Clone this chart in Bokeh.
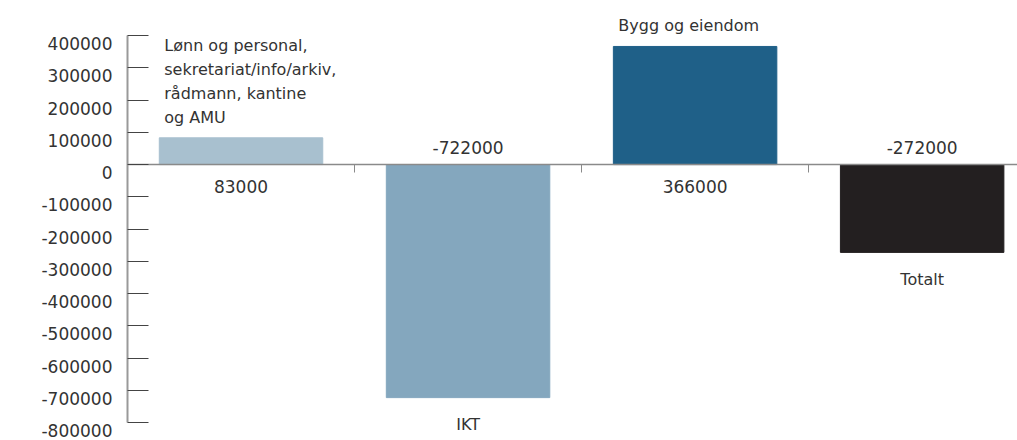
import numpy as np
import pandas as pd
from bokeh.plotting import figure
from bokeh.models import (ColumnDataSource, Range1d, FixedTicker, NumeralTickFormatter,
                          LinearAxis)
from bokeh.core.properties import value
from bokeh.embed import file_html
from bokeh.resources import INLINE

# ---- data ----
categories = ["Lønn og personal,\nsekretariat/info/arkiv,\nrådmann, kantine\nog AMU",
              "IKT", "Bygg og eiendom", "Totalt"]
values = [83000, -722000, 366000, -272000]
value_labels = ["83000", "-722000", "366000", "-272000"]
colors = ["#a8c0cf", "#84a7be", "#1f6088", "#231f20"]
y_ticks = list(range(-800000, 400001, 100000))

FONT = value("DejaVu Sans")
TXT = "#333333"
BAR_W = 0.72
Y0, Y1 = -842450, 508400
LABEL_SHIFT = 24800   # tick labels sit ~8 px below their ticks in the original

df = pd.DataFrame({"cat": categories, "val": values, "lab": value_labels, "color": colors})
df["x"] = np.arange(len(df)) + 0.5
df["left"] = df["x"] - BAR_W / 2
pos = df[df["val"] >= 0]
neg = df[df["val"] < 0]

p = figure(width=1017, height=440, output_backend="svg", toolbar_location=None,
           x_range=Range1d(0, 3.92), y_range=Range1d(Y0, Y1),
           min_border_left=127, min_border_right=0, min_border_top=0, min_border_bottom=4)
p.outline_line_color = None
p.xgrid.visible = False
p.ygrid.visible = False

p.vbar(x="x", top="val", bottom=0, width=BAR_W, color="color", source=ColumnDataSource(df))

# y axis: line + ticks
ya = p.yaxis[0]
ya.ticker = FixedTicker(ticks=y_ticks)
ya.major_label_overrides = {t: "" for t in y_ticks}
ya.major_label_standoff = 0
ya.bounds = (min(y_ticks), max(y_ticks))
ya.axis_line_color = "#999999"
ya.axis_line_width = 2
ya.major_tick_in = 21
ya.major_tick_out = 0
ya.major_tick_line_color = "#444444"
ya.minor_tick_line_color = None

# y tick labels (slightly below their ticks)
p.extra_y_ranges = {"lab": Range1d(Y0 + LABEL_SHIFT, Y1 + LABEL_SHIFT)}
yl = LinearAxis(y_range_name="lab", ticker=FixedTicker(ticks=y_ticks),
                formatter=NumeralTickFormatter(format="0"))
yl.axis_line_color = None
yl.major_tick_line_color = None
yl.minor_tick_line_color = None
yl.major_tick_in = 0
yl.major_tick_out = 0
yl.major_label_standoff = 15
yl.major_label_text_font = "DejaVu Sans"
yl.major_label_text_font_size = "17px"
yl.major_label_text_color = TXT
p.add_layout(yl, "left")

# x axis as zero line
xa = p.xaxis[0]
xa.fixed_location = 0
xa.ticker = FixedTicker(ticks=[1, 2, 3])
xa.major_label_overrides = {1: "", 2: "", 3: ""}
xa.axis_line_color = "#8a8a8a"
xa.axis_line_width = 1.5
xa.major_tick_in = 0
xa.major_tick_out = 8
xa.major_tick_line_color = "#8a8a8a"
xa.minor_tick_line_color = None

# value labels
p.text(x="x", y=0, text="lab", source=ColumnDataSource(pos), y_offset=22,
       text_align="center", text_baseline="middle", text_font=FONT,
       text_font_size="17px", text_color=TXT)
p.text(x="x", y=0, text="lab", source=ColumnDataSource(neg), y_offset=-17,
       text_align="center", text_baseline="middle", text_font=FONT,
       text_font_size="17px", text_color=TXT)

# category labels
p.text(x="left", y="val", text="cat", source=ColumnDataSource(pos), x_offset=5, y_offset=-11,
       text_align="left", text_baseline="bottom", text_font=FONT, text_line_height=1.26,
       text_font_size="16px", text_color=TXT)
p.text(x="x", y="val", text="cat", source=ColumnDataSource(neg), y_offset=27,
       text_align="center", text_baseline="middle", text_font=FONT,
       text_font_size="16px", text_color=TXT)

open("out.html", "w").write(file_html(p, INLINE))
